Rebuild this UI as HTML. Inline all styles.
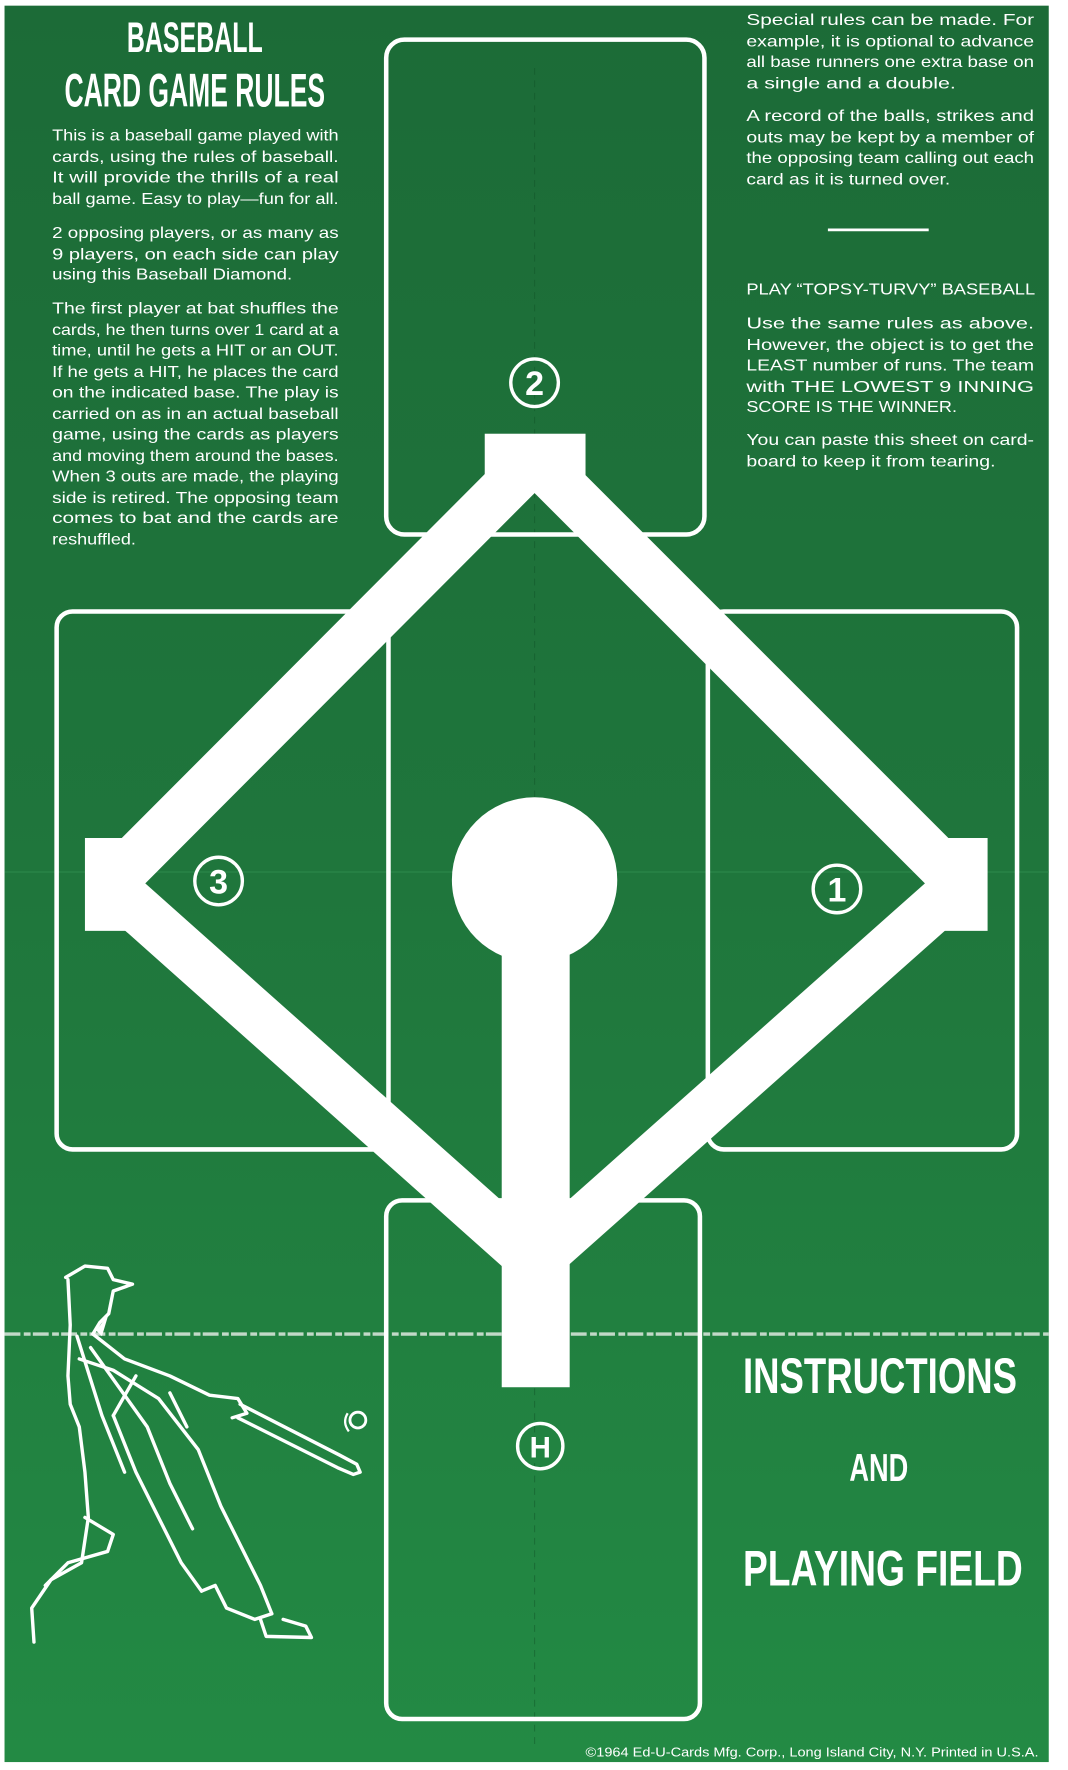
<!DOCTYPE html>
<html><head><meta charset="utf-8"><style>
html,body{margin:0;padding:0;background:#fff;}
svg{display:block;}
.t{font-family:"Liberation Sans Narrow","Liberation Sans",sans-serif;fill:#fff;}
.b{font-size:14.2px;}
.h{font-weight:bold;}
</style></head><body>
<svg width="1068" height="1770" viewBox="0 0 943 1563" preserveAspectRatio="none" xmlns="http://www.w3.org/2000/svg">
<defs>
<linearGradient id="g" x1="0" y1="0" x2="0" y2="1">
<stop offset="0" stop-color="#1c6b37"/><stop offset="0.5" stop-color="#1f763c"/><stop offset="1" stop-color="#238a44"/>
</linearGradient>
</defs>
<rect x="0" y="0" width="943" height="1563" fill="#fff"/>
<rect x="4" y="5" width="922" height="1551" fill="url(#g)"/>
<!-- fold lines -->
<line x1="472" y1="60" x2="472" y2="1545" stroke="#0f4f25" stroke-width="1" stroke-dasharray="6 5" opacity="0.4"/>
<line x1="4" y1="770" x2="926" y2="770" stroke="#2e8a4c" stroke-width="1.5" opacity="0.6"/>
<line x1="4" y1="1178" x2="926" y2="1178" stroke="#dfe9e0" stroke-width="3" stroke-dasharray="14 3 6 2" opacity="0.85"/>
<!-- cards -->
<g fill="none" stroke="#fff" stroke-width="4">
<rect x="341" y="35" width="281" height="437" rx="16"/>
<rect x="50" y="540" width="293" height="475" rx="14"/>
<rect x="625" y="540" width="273" height="475" rx="14"/>
<rect x="341" y="1060" width="277" height="458" rx="14"/>
</g>
<!-- diamond -->
<polygon points="472,405 848,781 472,1115 97,781" fill="none" stroke="#fff" stroke-width="43" stroke-linejoin="bevel"/>
<g fill="#fff">
<rect x="428" y="383" width="89" height="49"/>
<rect x="75" y="740" width="45" height="82"/>
<rect x="825" y="740" width="47" height="82"/>
<circle cx="472" cy="777" r="73"/>
<rect x="443" y="800" width="60" height="425"/>
</g>
<!-- circled numbers -->
<g fill="none" stroke="#fff" stroke-width="3">
<circle cx="472" cy="338" r="21"/>
<circle cx="193" cy="778" r="21"/>
<circle cx="739" cy="785" r="21"/>
<circle cx="477" cy="1277" r="20"/>
</g>
<g class="t h" text-anchor="middle" font-size="30">
<text x="472" y="349" style="font-family:'Liberation Sans',sans-serif">2</text>
<text x="193" y="789" style="font-family:'Liberation Sans',sans-serif">3</text>
<text x="739" y="796" style="font-family:'Liberation Sans',sans-serif">1</text>
<text x="477" y="1287" font-size="26" style="font-family:'Liberation Sans',sans-serif">H</text>
</g>
<!-- title -->
<text class="t h" x="112" y="46" font-size="38" textLength="120" lengthAdjust="spacingAndGlyphs">BASEBALL</text>
<text class="t h" x="57" y="94" font-size="42" textLength="230" lengthAdjust="spacingAndGlyphs">CARD GAME RULES</text>
<!-- left text -->
<g class="t b">
<text x="46" y="124" textLength="253" lengthAdjust="spacingAndGlyphs">This is a baseball game played with</text>
<text x="46" y="143" textLength="253" lengthAdjust="spacingAndGlyphs">cards, using the rules of baseball.</text>
<text x="46" y="161" textLength="253" lengthAdjust="spacingAndGlyphs">It will provide the thrills of a real</text>
<text x="46" y="180" textLength="253" lengthAdjust="spacingAndGlyphs">ball game. Easy to play—fun for all.</text>
<text x="46" y="210" textLength="253" lengthAdjust="spacingAndGlyphs">2 opposing players, or as many as</text>
<text x="46" y="229" textLength="253" lengthAdjust="spacingAndGlyphs">9 players, on each side can play</text>
<text x="46" y="247" textLength="212" lengthAdjust="spacingAndGlyphs">using this Baseball Diamond.</text>
<text x="46" y="277" textLength="253" lengthAdjust="spacingAndGlyphs">The first player at bat shuffles the</text>
<text x="46" y="296" textLength="253" lengthAdjust="spacingAndGlyphs">cards, he then turns over 1 card at a</text>
<text x="46" y="314" textLength="253" lengthAdjust="spacingAndGlyphs">time, until he gets a HIT or an OUT.</text>
<text x="46" y="333" textLength="253" lengthAdjust="spacingAndGlyphs">If he gets a HIT, he places the card</text>
<text x="46" y="351" textLength="253" lengthAdjust="spacingAndGlyphs">on the indicated base. The play is</text>
<text x="46" y="370" textLength="253" lengthAdjust="spacingAndGlyphs">carried on as in an actual baseball</text>
<text x="46" y="388" textLength="253" lengthAdjust="spacingAndGlyphs">game, using the cards as players</text>
<text x="46" y="407" textLength="253" lengthAdjust="spacingAndGlyphs">and moving them around the bases.</text>
<text x="46" y="425" textLength="253" lengthAdjust="spacingAndGlyphs">When 3 outs are made, the playing</text>
<text x="46" y="444" textLength="253" lengthAdjust="spacingAndGlyphs">side is retired. The opposing team</text>
<text x="46" y="462" textLength="253" lengthAdjust="spacingAndGlyphs">comes to bat and the cards are</text>
<text x="46" y="481" textLength="74" lengthAdjust="spacingAndGlyphs">reshuffled.</text>
</g>
<!-- right text -->
<g class="t b">
<text x="659" y="22" textLength="254" lengthAdjust="spacingAndGlyphs">Special rules can be made. For</text>
<text x="659" y="41" textLength="254" lengthAdjust="spacingAndGlyphs">example, it is optional to advance</text>
<text x="659" y="59" textLength="254" lengthAdjust="spacingAndGlyphs">all base runners one extra base on</text>
<text x="659" y="78" textLength="185" lengthAdjust="spacingAndGlyphs">a single and a double.</text>
<text x="659" y="107" textLength="254" lengthAdjust="spacingAndGlyphs">A record of the balls, strikes and</text>
<text x="659" y="126" textLength="254" lengthAdjust="spacingAndGlyphs">outs may be kept by a member of</text>
<text x="659" y="144" textLength="254" lengthAdjust="spacingAndGlyphs">the opposing team calling out each</text>
<text x="659" y="163" textLength="180" lengthAdjust="spacingAndGlyphs">card as it is turned over.</text>
<text x="659" y="260" textLength="255" lengthAdjust="spacingAndGlyphs">PLAY “TOPSY-TURVY” BASEBALL</text>
<text x="659" y="290" textLength="254" lengthAdjust="spacingAndGlyphs">Use the same rules as above.</text>
<text x="659" y="309" textLength="254" lengthAdjust="spacingAndGlyphs">However, the object is to get the</text>
<text x="659" y="327" textLength="254" lengthAdjust="spacingAndGlyphs">LEAST number of runs. The team</text>
<text x="659" y="346" textLength="254" lengthAdjust="spacingAndGlyphs">with THE LOWEST 9 INNING</text>
<text x="659" y="364" textLength="186" lengthAdjust="spacingAndGlyphs">SCORE IS THE WINNER.</text>
<text x="659" y="393" textLength="254" lengthAdjust="spacingAndGlyphs">You can paste this sheet on card-</text>
<text x="659" y="412" textLength="220" lengthAdjust="spacingAndGlyphs">board to keep it from tearing.</text>
</g>
<line x1="731" y1="203" x2="820" y2="203" stroke="#fff" stroke-width="2.5"/>
<!-- bottom right -->
<text class="t h" x="656" y="1230" font-size="44" textLength="242" lengthAdjust="spacingAndGlyphs">INSTRUCTIONS</text>
<text class="t h" x="750" y="1308" font-size="34" textLength="52" lengthAdjust="spacingAndGlyphs">AND</text>
<text class="t h" x="656" y="1400" font-size="44" textLength="247" lengthAdjust="spacingAndGlyphs">PLAYING FIELD</text>
<text class="t" x="517" y="1551" font-size="11" textLength="400" lengthAdjust="spacingAndGlyphs">©1964 Ed-U-Cards Mfg. Corp., Long Island City, N.Y. Printed in U.S.A.</text>
<!-- batter -->
<g fill="none" stroke="#fff" stroke-width="3" stroke-linecap="round" stroke-linejoin="round">
<path d="M58,1128 L75,1118 L95,1120 L100,1130 L117,1134 L100,1140 L96,1160 L88,1168 L82,1178"/>
<path d="M60,1130 L62,1170 L60,1215 L62,1240 L70,1260 L75,1300 L78,1340 L72,1380 L45,1395 L28,1420 L30,1450"/>
<path d="M82,1178 L110,1200 L150,1215 L185,1232 L210,1235 L218,1248 L205,1252"/>
<path d="M70,1200 L100,1210 L140,1235 L175,1280 L195,1330 L210,1360 L230,1400 L240,1425"/>
<path d="M100,1250 L120,1300 L140,1340 L160,1380 L178,1405"/>
<path d="M212,1240 L300,1285 L315,1293 L318,1300 L312,1302 L298,1296 L210,1252"/>
<path d="M75,1340 L100,1355 L95,1370 L60,1380 L40,1400"/>
<path d="M178,1405 L190,1400 L200,1420 L225,1430 L240,1425"/>
<path d="M230,1430 L235,1445 L275,1446 L270,1436 L250,1430"/>
<path d="M68,1180 L90,1250 L110,1300 M80,1190 L130,1260 L150,1310 L170,1350"/>
<path d="M150,1230 L165,1260 M120,1215 L100,1250"/>
</g>
<circle cx="316" cy="1254" r="7" fill="none" stroke="#fff" stroke-width="2.5"/>
<path d="M307,1248 Q302,1256 308,1264" fill="none" stroke="#fff" stroke-width="2"/>
<path d="M96,1160 L90,1180 L85,1175 Z" fill="#fff"/>
</svg>
</body></html>
